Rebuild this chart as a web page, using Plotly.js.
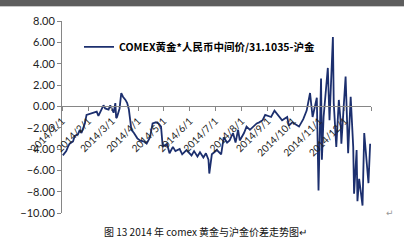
<!DOCTYPE html>
<html>
<head>
<meta charset="utf-8">
<script src="https://cdn.plot.ly/plotly-3.0.1.min.js"></script>
<style>
html,body{margin:0;padding:0;background:#fff;}
#topbar{position:absolute;left:0;top:0;width:404px;height:6px;background:#5e5e5e;border-bottom:1px solid #c8c8c8;z-index:5;}
#chart{position:absolute;left:0;top:0;width:404px;height:240px;}
</style>
</head>
<body>
<div id="topbar"></div>
<div id="chart"></div>
<script>
// Trading dates and spread values (COMEX gold * CNY rate / 31.1035 - SHFE gold)
const dates = [
 '2014-01-02','2014-01-06','2014-01-08','2014-01-10','2014-01-14','2014-01-16','2014-01-20','2014-01-22','2014-01-24','2014-01-28','2014-01-30',
 '2014-02-04','2014-02-07','2014-02-11','2014-02-13','2014-02-19','2014-02-21','2014-02-25','2014-02-27',
 '2014-03-03','2014-03-05','2014-03-06','2014-03-07','2014-03-10','2014-03-12','2014-03-14','2014-03-17','2014-03-19','2014-03-21','2014-03-24','2014-03-27','2014-03-31',
 '2014-04-03','2014-04-08','2014-04-11','2014-04-15','2014-04-18','2014-04-22','2014-04-25','2014-04-28','2014-04-30',
 '2014-05-05','2014-05-08','2014-05-12','2014-05-15','2014-05-20','2014-05-23','2014-05-28',
 '2014-06-03','2014-06-06','2014-06-10','2014-06-13','2014-06-17','2014-06-20','2014-06-23','2014-06-24','2014-06-27',
 '2014-07-03','2014-07-08','2014-07-11','2014-07-15','2014-07-18','2014-07-22','2014-07-25','2014-07-28','2014-07-30',
 '2014-08-04','2014-08-07','2014-08-11','2014-08-14','2014-08-19','2014-08-22','2014-08-26','2014-08-29',
 '2014-09-05','2014-09-09','2014-09-12','2014-09-18','2014-09-24','2014-09-26','2014-09-30',
 '2014-10-08','2014-10-13','2014-10-17','2014-10-21','2014-10-24','2014-10-29','2014-10-31',
 '2014-11-03','2014-11-04','2014-11-06','2014-11-10','2014-11-11','2014-11-13','2014-11-17','2014-11-18','2014-11-21','2014-11-24','2014-11-26','2014-11-27',
 '2014-12-02','2014-12-05','2014-12-08','2014-12-11','2014-12-12','2014-12-15','2014-12-16','2014-12-18','2014-12-22','2014-12-24','2014-12-29','2014-12-31'
];
const spread = [
 -4.6,-4.2,-3.8,-3.5,-3.3,-2.8,-2.6,-2.2,-2.5,-1.6,-0.8,
 -0.7,-0.6,-0.5,-0.9,0.1,-0.2,-0.3,0.1,
 -0.6,0.3,-1.1,-1.0,-0.2,1.25,0.9,0.6,0.3,-0.3,-2.2,-2.5,-3.0,
 -3.2,-3.3,-3.5,-2.9,-1.6,-1.5,-1.6,-1.9,-3.8,
 -3.5,-4.4,-3.8,-4.2,-4.0,-4.5,-4.1,
 -4.6,-4.2,-4.7,-4.3,-4.8,-4.4,-5.0,-6.3,-4.5,
 -4.1,-4.5,-2.9,-3.4,-3.2,-2.5,-3.4,-2.2,-3.2,
 -2.5,-1.9,-2.2,-2.0,-1.6,-1.5,-1.3,-0.8,
 -1.0,-0.4,-0.7,-1.3,-1.0,-1.8,-1.5,
 -1.9,-1.2,-0.4,1.25,-1.0,0.8,-7.9,
 2.6,-5.0,-1.0,2.2,3.6,-1.3,6.5,0.3,-3.8,0.6,-1.3,-3.5,
 2.8,-4.4,0.9,-3.8,-8.2,-4.1,-8.9,-6.8,-9.3,-2.5,-7.2,-3.5
];
const tickDates = ['2014-01-01','2014-02-01','2014-03-01','2014-04-01','2014-05-01','2014-06-01','2014-07-01','2014-08-01','2014-09-01','2014-10-01','2014-11-01','2014-12-01','2015-01-01'];
const tickLabels = ['2014/1/1','2014/2/1','2014/3/1','2014/4/1','2014/5/1','2014/6/1','2014/7/1','2014/8/1','2014/9/1','2014/10/1','2014/11/1','2014/12/1',''];
const seriesName = 'COMEX黄金*人民币中间价/31.1035-沪金';
const caption = '图 13 2014 年 comex 黄金与沪金价差走势图↵';

const trace = {
  x: dates, y: spread, type: 'scatter', mode: 'lines', name: seriesName,
  line: {color: '#1c2f6e', width: 1.8}
};
const layout = {
  width: 404, height: 240,
  margin: {l: 62, r: 33, t: 21, b: 27, pad: 0},
  paper_bgcolor: '#ffffff', plot_bgcolor: '#ffffff',
  showlegend: true,
  legend: {x: 0.055, y: 0.865, xanchor: 'left', yanchor: 'middle', bgcolor: 'rgba(0,0,0,0)',
           font: {family: 'Noto Sans CJK SC, Lato, sans-serif', size: 10.5, color: '#000', weight: 'bold'},
           itemwidth: 30},
  xaxis: {
    type: 'date', range: ['2014-01-01', '2015-01-01'],
    anchor: 'free', position: 10/18,
    tickmode: 'array', tickvals: tickDates, ticktext: tickLabels,
    tickangle: -45, ticks: 'outside', ticklen: 4, tickcolor: '#868686',
    showline: true, linecolor: '#868686', linewidth: 1,
    showgrid: false, zeroline: false,
    tickfont: {family: 'Lato, sans-serif', size: 10, color: '#222'}
  },
  yaxis: {
    range: [-10, 8], dtick: 2, tick0: 0, tickformat: '.2f',
    ticks: 'outside', ticklen: 4, tickcolor: '#868686',
    showline: true, linecolor: '#868686', linewidth: 1,
    showgrid: false, zeroline: false,
    tickfont: {family: 'Lato, sans-serif', size: 11, color: '#222'}
  },
  annotations: [
    {text: caption, xref: 'paper', yref: 'paper', x: 0.463, y: -0.097, xanchor: 'center', yanchor: 'middle',
     showarrow: false, font: {family: 'Noto Sans CJK SC, sans-serif', size: 10, color: '#111'}},
    {text: '↵', xref: 'paper', yref: 'paper', x: 1.06, y: 0.0, xanchor: 'center', yanchor: 'middle',
     showarrow: false, font: {family: 'DejaVu Sans, sans-serif', size: 9, color: '#999'}}
  ]
};
Plotly.newPlot('chart', [trace], layout, {staticPlot: true, displayModeBar: false});
</script>
</body>
</html>
